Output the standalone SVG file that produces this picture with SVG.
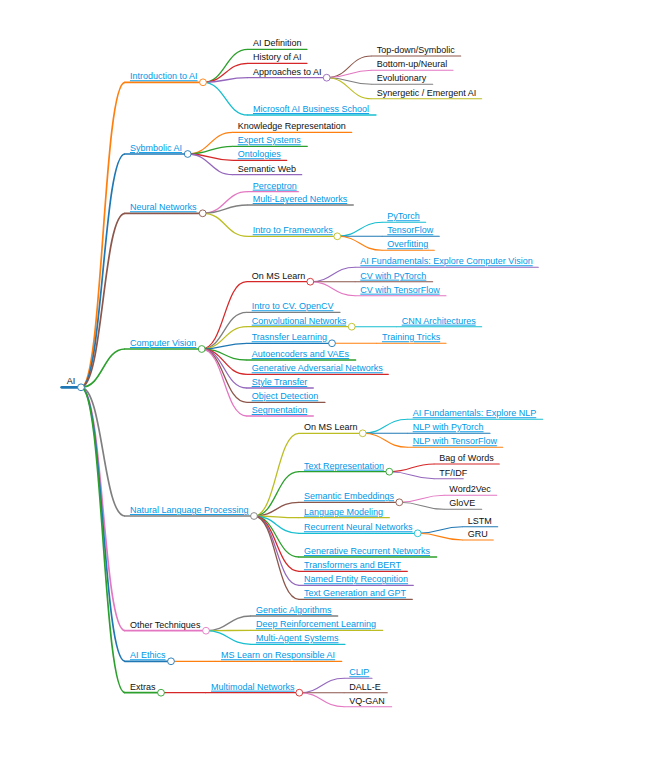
<svg xmlns="http://www.w3.org/2000/svg" width="667" height="783" viewBox="0 0 667 783">
<style>
text{font-family:"Liberation Sans",Arial,sans-serif;font-size:9px;fill:#111}
text.a{fill:#0097e6;text-decoration:underline}
.ln{fill:none;stroke-linecap:round}
.c{fill:#fff;stroke-width:0.9}
#links path{fill:none}
.d1{stroke-width:1.7}.d2{stroke-width:1.3}.d3{stroke-width:1.1}
</style>
<rect width="667" height="783" fill="#fff"/>
<g id="links">
<path class="d1" stroke="#ff7f0e" d="M81,387.3C103,387.3 103,82.3 125,82.3"/>
<path class="d1" stroke="#1f77b4" d="M81,387.3C103,387.3 103,154 125,154"/>
<path class="d1" stroke="#8c564b" d="M81,387.3C103,387.3 103,213.3 125,213.3"/>
<path class="d1" stroke="#2ca02c" d="M81,387.3C103,387.3 103,349 125,349"/>
<path class="d1" stroke="#7f7f7f" d="M81,387.3C103,387.3 103,516 125,516"/>
<path class="d1" stroke="#e377c2" d="M81,387.3C103,387.3 103,630.7 125,630.7"/>
<path class="d1" stroke="#1f77b4" d="M81,387.3C103,387.3 103,661.3 125,661.3"/>
<path class="d1" stroke="#2ca02c" d="M81,387.3C103,387.3 103,692.7 125,692.7"/>
<path class="d2" stroke="#2ca02c" d="M203,82.3C225.5,82.3 225.5,49.3 248,49.3"/>
<path class="d2" stroke="#d62728" d="M203,82.3C225.5,82.3 225.5,63.3 248,63.3"/>
<path class="d2" stroke="#9467bd" d="M203,82.3C225.5,82.3 225.5,77.7 248,77.7"/>
<path class="d2" stroke="#17becf" d="M203,82.3C225.5,82.3 225.5,115 248,115"/>
<path class="d3" stroke="#8c564b" d="M326.7,77.7C349.2,77.7 349.2,56 371.7,56"/>
<path class="d3" stroke="#e377c2" d="M326.7,77.7C349.2,77.7 349.2,70.3 371.7,70.3"/>
<path class="d3" stroke="#7f7f7f" d="M326.7,77.7C349.2,77.7 349.2,84.3 371.7,84.3"/>
<path class="d3" stroke="#bcbd22" d="M326.7,77.7C349.2,77.7 349.2,98.7 371.7,98.7"/>
<path class="d2" stroke="#ff7f0e" d="M187.7,154C210.2,154 210.2,132.3 232.7,132.3"/>
<path class="d2" stroke="#2ca02c" d="M187.7,154C210.2,154 210.2,146.3 232.7,146.3"/>
<path class="d2" stroke="#d62728" d="M187.7,154C210.2,154 210.2,160.3 232.7,160.3"/>
<path class="d2" stroke="#9467bd" d="M187.7,154C210.2,154 210.2,174.7 232.7,174.7"/>
<path class="d2" stroke="#e377c2" d="M202.7,213.3C225.2,213.3 225.2,191.7 247.7,191.7"/>
<path class="d2" stroke="#7f7f7f" d="M202.7,213.3C225.2,213.3 225.2,205 247.7,205"/>
<path class="d2" stroke="#bcbd22" d="M202.7,213.3C225.2,213.3 225.2,236.3 247.7,236.3"/>
<path class="d3" stroke="#17becf" d="M337.3,236.3C359.8,236.3 359.8,222.3 382.3,222.3"/>
<path class="d3" stroke="#1f77b4" d="M337.3,236.3C359.8,236.3 359.8,236.3 382.3,236.3"/>
<path class="d3" stroke="#ff7f0e" d="M337.3,236.3C359.8,236.3 359.8,250.3 382.3,250.3"/>
<path class="d2" stroke="#d62728" d="M201.7,349C224.2,349 224.2,281.7 246.7,281.7"/>
<path class="d2" stroke="#7f7f7f" d="M201.7,349C224.2,349 224.2,312.3 246.7,312.3"/>
<path class="d2" stroke="#bcbd22" d="M201.7,349C224.2,349 224.2,326.7 246.7,326.7"/>
<path class="d2" stroke="#1f77b4" d="M201.7,349C224.2,349 224.2,343.3 246.7,343.3"/>
<path class="d2" stroke="#2ca02c" d="M201.7,349C224.2,349 224.2,360 246.7,360"/>
<path class="d2" stroke="#d62728" d="M201.7,349C224.2,349 224.2,374.3 246.7,374.3"/>
<path class="d2" stroke="#9467bd" d="M201.7,349C224.2,349 224.2,388 246.7,388"/>
<path class="d2" stroke="#8c564b" d="M201.7,349C224.2,349 224.2,402.3 246.7,402.3"/>
<path class="d2" stroke="#e377c2" d="M201.7,349C224.2,349 224.2,416 246.7,416"/>
<path class="d3" stroke="#9467bd" d="M310.3,281.7C332.8,281.7 332.8,267.3 355.3,267.3"/>
<path class="d3" stroke="#8c564b" d="M310.3,281.7C332.8,281.7 332.8,281.7 355.3,281.7"/>
<path class="d3" stroke="#e377c2" d="M310.3,281.7C332.8,281.7 332.8,295.7 355.3,295.7"/>
<path class="d3" stroke="#17becf" d="M351.7,326.7H396.7"/>
<path class="d3" stroke="#ff7f0e" d="M332,343.3H377"/>
<path class="d2" stroke="#bcbd22" d="M254,516C276.5,516 276.5,433.3 299,433.3"/>
<path class="d2" stroke="#2ca02c" d="M254,516C276.5,516 276.5,471.7 299,471.7"/>
<path class="d2" stroke="#8c564b" d="M254,516C276.5,516 276.5,502.3 299,502.3"/>
<path class="d2" stroke="#bcbd22" d="M254,516C276.5,516 276.5,517.7 299,517.7"/>
<path class="d2" stroke="#17becf" d="M254,516C276.5,516 276.5,533.3 299,533.3"/>
<path class="d2" stroke="#2ca02c" d="M254,516C276.5,516 276.5,557 299,557"/>
<path class="d2" stroke="#d62728" d="M254,516C276.5,516 276.5,571.3 299,571.3"/>
<path class="d2" stroke="#9467bd" d="M254,516C276.5,516 276.5,585.3 299,585.3"/>
<path class="d2" stroke="#8c564b" d="M254,516C276.5,516 276.5,599.3 299,599.3"/>
<path class="d3" stroke="#17becf" d="M362.7,433.3C385.2,433.3 385.2,419.3 407.7,419.3"/>
<path class="d3" stroke="#1f77b4" d="M362.7,433.3C385.2,433.3 385.2,433.3 407.7,433.3"/>
<path class="d3" stroke="#ff7f0e" d="M362.7,433.3C385.2,433.3 385.2,447.3 407.7,447.3"/>
<path class="d3" stroke="#d62728" d="M389.3,471.7C411.8,471.7 411.8,464 434.3,464"/>
<path class="d3" stroke="#9467bd" d="M389.3,471.7C411.8,471.7 411.8,478.7 434.3,478.7"/>
<path class="d3" stroke="#e377c2" d="M399.3,502.3C421.8,502.3 421.8,495.3 444.3,495.3"/>
<path class="d3" stroke="#7f7f7f" d="M399.3,502.3C421.8,502.3 421.8,509.3 444.3,509.3"/>
<path class="d3" stroke="#1f77b4" d="M417.7,533.3C440.2,533.3 440.2,526.7 462.7,526.7"/>
<path class="d3" stroke="#ff7f0e" d="M417.7,533.3C440.2,533.3 440.2,540 462.7,540"/>
<path class="d2" stroke="#7f7f7f" d="M206,630.7C228.5,630.7 228.5,616 251,616"/>
<path class="d2" stroke="#bcbd22" d="M206,630.7C228.5,630.7 228.5,630.3 251,630.3"/>
<path class="d2" stroke="#17becf" d="M206,630.7C228.5,630.7 228.5,644.3 251,644.3"/>
<path class="d2" stroke="#ff7f0e" d="M171,661.3H216"/>
<path class="d2" stroke="#d62728" d="M161,692.7H206"/>
<path class="d3" stroke="#9467bd" d="M299.3,692.7C321.8,692.7 321.8,678.3 344.3,678.3"/>
<path class="d3" stroke="#8c564b" d="M299.3,692.7C321.8,692.7 321.8,692.7 344.3,692.7"/>
<path class="d3" stroke="#e377c2" d="M299.3,692.7C321.8,692.7 321.8,706.7 344.3,706.7"/>
</g>
<g id="nodes">
<g id="n-ai"><path class="ln" stroke="#1f77b4" stroke-width="2.8" d="M61.7,387.3H81"/><circle class="c" stroke="#1f77b4" cx="81" cy="387.3" r="3.4"/><text x="66.7" y="384.3">AI</text></g>

<g id="n-intro"><path class="ln d1" stroke="#ff7f0e" d="M125,82.3H203"/><circle class="c" stroke="#ff7f0e" cx="203" cy="82.3" r="3.4"/><text class="a" x="130" y="79.3">Introduction to AI</text></g>
<g id="n-aidef"><path class="ln d2" stroke="#2ca02c" d="M248,49.3H307"/><text x="253" y="46.3">AI Definition</text></g>
<g id="n-hist"><path class="ln d2" stroke="#d62728" d="M248,63.3H307"/><text x="253" y="60.3">History of AI</text></g>
<g id="n-appr"><path class="ln d2" stroke="#9467bd" d="M248,77.7H326.7"/><circle class="c" stroke="#9467bd" cx="326.7" cy="77.7" r="3.4"/><text x="253" y="74.7">Approaches to AI</text></g>
<g id="n-topdown"><path class="ln d3" stroke="#8c564b" d="M371.7,56H460.7"/><text x="376.7" y="53">Top-down/Symbolic</text></g>
<g id="n-bottomup"><path class="ln d3" stroke="#e377c2" d="M371.7,70.3H453"/><text x="376.7" y="67.3">Bottom-up/Neural</text></g>
<g id="n-evo"><path class="ln d3" stroke="#7f7f7f" d="M371.7,84.3H432.7"/><text x="376.7" y="81.3">Evolutionary</text></g>
<g id="n-syn"><path class="ln d3" stroke="#bcbd22" d="M371.7,98.7H481.7"/><text x="376.7" y="95.7">Synergetic / Emergent AI</text></g>
<g id="n-msbs"><path class="ln d2" stroke="#17becf" d="M248,115H376"/><text class="a" x="253" y="112">Microsoft AI Business School</text></g>

<g id="n-symb"><path class="ln d1" stroke="#1f77b4" d="M125,154H187.7"/><circle class="c" stroke="#1f77b4" cx="187.7" cy="154" r="3.4"/><text class="a" x="130" y="151">Sybmbolic AI</text></g>
<g id="n-kr"><path class="ln d2" stroke="#ff7f0e" d="M232.7,132.3H351.7"/><text x="237.7" y="129.3">Knowledge Representation</text></g>
<g id="n-es"><path class="ln d2" stroke="#2ca02c" d="M232.7,146.3H307.3"/><text class="a" x="237.7" y="143.3">Expert Systems</text></g>
<g id="n-onto"><path class="ln d2" stroke="#d62728" d="M232.7,160.3H286.7"/><text class="a" x="237.7" y="157.3">Ontologies</text></g>
<g id="n-sw"><path class="ln d2" stroke="#9467bd" d="M232.7,174.7H301.7"/><text x="237.7" y="171.7">Semantic Web</text></g>

<g id="n-nn"><path class="ln d1" stroke="#8c564b" d="M125,213.3H202.7"/><circle class="c" stroke="#8c564b" cx="202.7" cy="213.3" r="3.4"/><text class="a" x="130" y="210.3">Neural Networks</text></g>
<g id="n-perc"><path class="ln d2" stroke="#e377c2" d="M247.7,191.7H298.3"/><text class="a" x="252.7" y="188.7">Perceptron</text></g>
<g id="n-mln"><path class="ln d2" stroke="#7f7f7f" d="M247.7,205H353.3"/><text class="a" x="252.7" y="202">Multi-Layered Networks</text></g>
<g id="n-frm"><path class="ln d2" stroke="#bcbd22" d="M247.7,236.3H337.3"/><circle class="c" stroke="#bcbd22" cx="337.3" cy="236.3" r="3.4"/><text class="a" x="252.7" y="233.3">Intro to Frameworks</text></g>
<g id="n-pyt"><path class="ln d3" stroke="#17becf" d="M382.3,222.3H425.7"/><text class="a" x="387.3" y="219.3">PyTorch</text></g>
<g id="n-tf"><path class="ln d3" stroke="#1f77b4" d="M382.3,236.3H439.3"/><text class="a" x="387.3" y="233.3">TensorFlow</text></g>
<g id="n-ovf"><path class="ln d3" stroke="#ff7f0e" d="M382.3,250.3H434.3"/><text class="a" x="387.3" y="247.3">Overfitting</text></g>

<g id="n-cv"><path class="ln d1" stroke="#2ca02c" d="M125,349H201.7"/><circle class="c" stroke="#2ca02c" cx="201.7" cy="349" r="3.4"/><text class="a" x="130" y="346">Computer Vision</text></g>
<g id="n-cvms"><path class="ln d2" stroke="#d62728" d="M246.7,281.7H310.3"/><circle class="c" stroke="#d62728" cx="310.3" cy="281.7" r="3.4"/><text x="251.7" y="278.7">On MS Learn</text></g>
<g id="n-aifcv"><path class="ln d3" stroke="#9467bd" d="M355.3,267.3H538.3"/><text class="a" x="360.3" y="264.3">AI Fundamentals: Explore Computer Vision</text></g>
<g id="n-cvpt"><path class="ln d3" stroke="#8c564b" d="M355.3,281.7H432.7"/><text class="a" x="360.3" y="278.7">CV with PyTorch</text></g>
<g id="n-cvtf"><path class="ln d3" stroke="#e377c2" d="M355.3,295.7H446"/><text class="a" x="360.3" y="292.7">CV with TensorFlow</text></g>
<g id="n-ocv"><path class="ln d2" stroke="#7f7f7f" d="M246.7,312.3H340"/><text class="a" x="251.7" y="309.3">Intro to CV. OpenCV</text></g>
<g id="n-conv"><path class="ln d2" stroke="#bcbd22" d="M246.7,326.7H351.7"/><circle class="c" stroke="#bcbd22" cx="351.7" cy="326.7" r="3.4"/><text class="a" x="251.7" y="323.7">Convolutional Networks</text></g>
<g id="n-cnna"><path class="ln d3" stroke="#17becf" d="M396.7,326.7H481.7"/><text class="a" x="401.7" y="323.7">CNN Architectures</text></g>
<g id="n-trl"><path class="ln d2" stroke="#1f77b4" d="M246.7,343.3H332"/><circle class="c" stroke="#1f77b4" cx="332" cy="343.3" r="3.4"/><text class="a" x="251.7" y="340.3">Trasnsfer Learning</text></g>
<g id="n-tt"><path class="ln d3" stroke="#ff7f0e" d="M377,343.3H446"/><text class="a" x="382" y="340.3">Training Tricks</text></g>
<g id="n-ae"><path class="ln d2" stroke="#2ca02c" d="M246.7,360H355.7"/><text class="a" x="251.7" y="357">Autoencoders and VAEs</text></g>
<g id="n-gan"><path class="ln d2" stroke="#d62728" d="M246.7,374.3H388.3"/><text class="a" x="251.7" y="371.3">Generative Adversarial Networks</text></g>
<g id="n-st"><path class="ln d2" stroke="#9467bd" d="M246.7,388H313.3"/><text class="a" x="251.7" y="385">Style Transfer</text></g>
<g id="n-od"><path class="ln d2" stroke="#8c564b" d="M246.7,402.3H325"/><text class="a" x="251.7" y="399.3">Object Detection</text></g>
<g id="n-seg"><path class="ln d2" stroke="#e377c2" d="M246.7,416H313.3"/><text class="a" x="251.7" y="413">Segmentation</text></g>

<g id="n-nlp"><path class="ln d1" stroke="#7f7f7f" d="M125,516H254"/><circle class="c" stroke="#7f7f7f" cx="254" cy="516" r="3.4"/><text class="a" x="130" y="513">Natural Language Processing</text></g>
<g id="n-nlpms"><path class="ln d2" stroke="#bcbd22" d="M299,433.3H362.7"/><circle class="c" stroke="#bcbd22" cx="362.7" cy="433.3" r="3.4"/><text x="304" y="430.3">On MS Learn</text></g>
<g id="n-aifnlp"><path class="ln d3" stroke="#17becf" d="M407.7,419.3H542.7"/><text class="a" x="412.7" y="416.3">AI Fundamentals: Explore NLP</text></g>
<g id="n-nlppt"><path class="ln d3" stroke="#1f77b4" d="M407.7,433.3H490"/><text class="a" x="412.7" y="430.3">NLP with PyTorch</text></g>
<g id="n-nlptf"><path class="ln d3" stroke="#ff7f0e" d="M407.7,447.3H502.7"/><text class="a" x="412.7" y="444.3">NLP with TensorFlow</text></g>
<g id="n-trep"><path class="ln d2" stroke="#2ca02c" d="M299,471.7H389.3"/><circle class="c" stroke="#2ca02c" cx="389.3" cy="471.7" r="3.4"/><text class="a" x="304" y="468.7">Text Representation</text></g>
<g id="n-bow"><path class="ln d3" stroke="#d62728" d="M434.3,464H499.3"/><text x="439.3" y="461">Bag of Words</text></g>
<g id="n-tfidf"><path class="ln d3" stroke="#9467bd" d="M434.3,478.7H463.3"/><text x="439.3" y="475.7">TF/IDF</text></g>
<g id="n-semb"><path class="ln d2" stroke="#8c564b" d="M299,502.3H399.3"/><circle class="c" stroke="#8c564b" cx="399.3" cy="502.3" r="3.4"/><text class="a" x="304" y="499.3">Semantic Embeddings</text></g>
<g id="n-w2v"><path class="ln d3" stroke="#e377c2" d="M444.3,495.3H496.7"/><text x="449.3" y="492.3">Word2Vec</text></g>
<g id="n-glove"><path class="ln d3" stroke="#7f7f7f" d="M444.3,509.3H481.7"/><text x="449.3" y="506.3">GloVE</text></g>
<g id="n-lm"><path class="ln d2" stroke="#bcbd22" d="M299,517.7H389.3"/><text class="a" x="304" y="514.7">Language Modeling</text></g>
<g id="n-rnn"><path class="ln d2" stroke="#17becf" d="M299,533.3H417.7"/><circle class="c" stroke="#17becf" cx="417.7" cy="533.3" r="3.4"/><text class="a" x="304" y="530.3">Recurrent Neural Networks</text></g>
<g id="n-lstm"><path class="ln d3" stroke="#1f77b4" d="M462.7,526.7H497.7"/><text x="467.7" y="523.7">LSTM</text></g>
<g id="n-gru"><path class="ln d3" stroke="#ff7f0e" d="M462.7,540H493.3"/><text x="467.7" y="537">GRU</text></g>
<g id="n-grn"><path class="ln d2" stroke="#2ca02c" d="M299,557H436.7"/><text class="a" x="304" y="554">Generative Recurrent Networks</text></g>
<g id="n-bert"><path class="ln d2" stroke="#d62728" d="M299,571.3H407.3"/><text class="a" x="304" y="568.3">Transformers and BERT</text></g>
<g id="n-ner"><path class="ln d2" stroke="#9467bd" d="M299,585.3H413.3"/><text class="a" x="304" y="582.3">Named Entity Recognition</text></g>
<g id="n-gpt"><path class="ln d2" stroke="#8c564b" d="M299,599.3H412.3"/><text class="a" x="304" y="596.3">Text Generation and GPT</text></g>

<g id="n-other"><path class="ln d1" stroke="#e377c2" d="M125,630.7H206"/><circle class="c" stroke="#e377c2" cx="206" cy="630.7" r="3.4"/><text x="130" y="627.7">Other Techniques</text></g>
<g id="n-ga"><path class="ln d2" stroke="#7f7f7f" d="M251,616H337.7"/><text class="a" x="256" y="613">Genetic Algorithms</text></g>
<g id="n-drl"><path class="ln d2" stroke="#bcbd22" d="M251,630.3H382.7"/><text class="a" x="256" y="627.3">Deep Reinforcement Learning</text></g>
<g id="n-mas"><path class="ln d2" stroke="#17becf" d="M251,644.3H345"/><text class="a" x="256" y="641.3">Multi-Agent Systems</text></g>

<g id="n-eth"><path class="ln d1" stroke="#1f77b4" d="M125,661.3H171"/><circle class="c" stroke="#1f77b4" cx="171" cy="661.3" r="3.4"/><text class="a" x="130" y="658.3">AI Ethics</text></g>
<g id="n-rai"><path class="ln d2" stroke="#ff7f0e" d="M216,661.3H341.7"/><text class="a" x="221" y="658.3">MS Learn on Responsible AI</text></g>

<g id="n-extras"><path class="ln d1" stroke="#2ca02c" d="M125,692.7H161"/><circle class="c" stroke="#2ca02c" cx="161" cy="692.7" r="3.4"/><text x="130" y="689.7">Extras</text></g>
<g id="n-mm"><path class="ln d2" stroke="#d62728" d="M206,692.7H299.3"/><circle class="c" stroke="#d62728" cx="299.3" cy="692.7" r="3.4"/><text class="a" x="211" y="689.7">Multimodal Networks</text></g>
<g id="n-clip"><path class="ln d3" stroke="#9467bd" d="M344.3,678.3H372"/><text class="a" x="349.3" y="675.3">CLIP</text></g>
<g id="n-dalle"><path class="ln d3" stroke="#8c564b" d="M344.3,692.7H387.3"/><text x="349.3" y="689.7">DALL-E</text></g>
<g id="n-vq"><path class="ln d3" stroke="#e377c2" d="M344.3,706.7H391.7"/><text x="349.3" y="703.7">VQ-GAN</text></g>
</g>
</svg>
